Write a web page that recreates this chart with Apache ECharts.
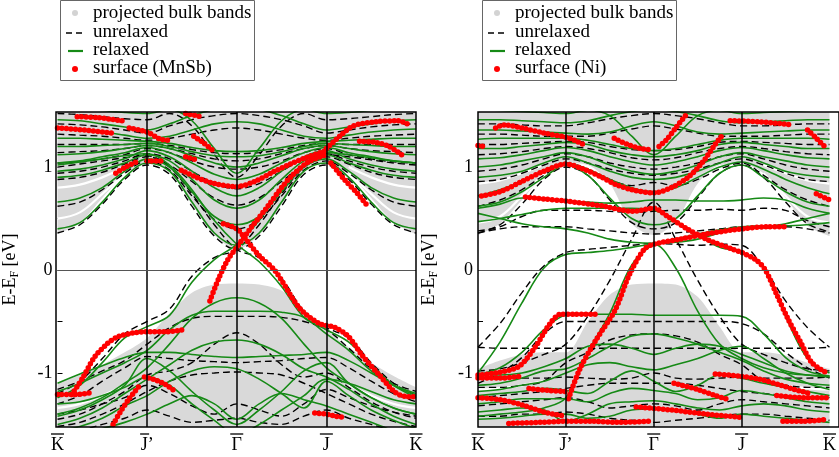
<!DOCTYPE html>
<html><head><meta charset="utf-8">
<script src="https://cdn.jsdelivr.net/npm/echarts@6/dist/echarts.min.js"></script>
<style>html,body{margin:0;padding:0;background:#fff}#c{width:839px;height:457px}</style>
</head><body><div id="c"></div><script>
// ---------- axes ----------
const kX = [0,0.25,0.5,0.75,1,1.25,1.5,1.75,2,2.25,2.5,2.75,3,3.25,3.5,3.75,4];
const kTickLabels = ['K','J\u2019','\u0393','J','K'];
const eTickValues = [-1,-0.5,0,0.5,1];
const eLabelValues = [-1,0,1];
const eMin = -1.525, eMax = 1.535;

// ---------- MnSb-terminated panel ----------
const mnsbBulkUpper = [0.35,0.46,0.70,0.93,1.03,0.97,0.64,0.34,0.20,0.34,0.64,0.97,1.03,0.93,0.70,0.46,0.35];
const mnsbBulkLower = [-1.10,-1.02,-0.92,-0.80,-0.66,-0.42,-0.22,-0.14,-0.13,-0.14,-0.20,-0.38,-0.58,-0.75,-0.90,-1.03,-1.14];
const mnsbGap = [[1.55,1.32],[1.75,1.40],[2.0,1.42],[2.25,1.40],[2.45,1.32],[2.25,1.26],[2.0,1.23],[1.75,1.26]];
const mnsbBulkStreaks = [
 [[0,0.50],[0.25,0.56],[0.5,0.74],[0.75,0.94]],
 [[0,0.80],[0.25,0.83],[0.5,0.90],[0.75,1.0]],
 [[3.25,0.94],[3.5,0.74],[3.75,0.56],[4,0.50]],
 [[3.25,1.0],[3.5,0.90],[3.75,0.83],[4,0.80]],
 [[0,-1.34],[0.25,-1.30],[0.5,-1.22],[0.75,-1.12]],
 [[3.25,-1.12],[3.5,-1.22],[3.75,-1.30],[4,-1.34]]
];
const mnsbRelaxed = [
 [0.40,0.46,0.66,0.90,1.04,0.96,0.66,0.36,0.24,0.36,0.66,0.96,1.04,0.90,0.66,0.46,0.40],
 [0.66,0.70,0.80,0.96,1.08,1.00,0.76,0.52,0.44,0.52,0.76,1.00,1.08,0.96,0.80,0.70,0.66],
 [0.90,0.92,0.97,1.04,1.12,1.06,0.88,0.68,0.60,0.68,0.88,1.06,1.12,1.04,0.97,0.92,0.90],
 [0.96,0.98,1.02,1.08,1.16,1.10,0.96,0.80,0.72,0.80,0.96,1.10,1.16,1.08,1.02,0.98,0.96],
 [1.04,1.06,1.10,1.14,1.19,1.14,1.04,0.93,0.88,0.93,1.04,1.14,1.19,1.14,1.10,1.06,1.04],
 [1.12,1.13,1.15,1.18,1.21,1.18,1.11,1.04,1.00,1.04,1.11,1.18,1.21,1.18,1.15,1.13,1.12],
 [1.20,1.20,1.21,1.22,1.23,1.20,1.15,1.11,1.10,1.11,1.15,1.20,1.23,1.22,1.21,1.20,1.20],
 [1.28,1.28,1.27,1.26,1.25,1.23,1.19,1.16,1.15,1.16,1.19,1.23,1.25,1.26,1.27,1.28,1.28],
 [1.37,1.36,1.34,1.31,1.28,1.30,1.36,1.42,1.44,1.42,1.36,1.30,1.28,1.31,1.34,1.36,1.37],
 [1.46,1.45,1.42,1.39,1.36,1.42,1.50,1.56,1.58,1.56,1.50,1.42,1.36,1.39,1.42,1.45,1.46],
 [1.58,1.57,1.55,1.53,1.52,1.56,1.45,1.18,0.94,1.18,1.45,1.56,1.52,1.53,1.55,1.57,1.58],
 [-1.24,-1.12,-0.90,-0.66,-0.55,-0.44,-0.12,0.10,0.25,0.48,0.78,1.02,1.14,1.12,1.09,1.06,1.04],
 [1.02,1.05,1.08,1.11,1.13,1.02,0.78,0.48,0.25,0.08,-0.16,-0.46,-0.58,-0.70,-0.92,-1.12,-1.24],
 [-1.10,-1.01,-0.93,-0.85,-0.80,-0.80,-0.82,-0.84,-0.85,-0.84,-0.83,-0.82,-0.80,-0.88,-1.00,-1.12,-1.20],
 [-1.18,-1.10,-1.00,-0.90,-0.78,-0.58,-0.44,-0.40,-0.40,-0.40,-0.41,-0.46,-0.62,-0.78,-0.98,-1.12,-1.22],
 [-1.40,-1.34,-1.24,-1.10,-0.95,-0.72,-0.47,-0.32,-0.27,-0.32,-0.47,-0.72,-0.95,-1.10,-1.24,-1.34,-1.40],
 [-1.50,-1.44,-1.34,-1.20,-1.06,-0.92,-0.78,-0.70,-0.68,-0.72,-0.82,-0.96,-1.04,-1.16,-1.30,-1.42,-1.50],
 [-1.42,-1.36,-1.26,-1.12,-0.86,-0.98,-1.18,-1.36,-1.50,-1.36,-1.18,-0.98,-0.90,-1.10,-1.24,-1.34,-1.40],
 [-1.56,-1.52,-1.44,-1.32,-1.22,-1.08,-0.98,-0.94,-0.96,-1.06,-1.20,-1.34,-1.08,-1.22,-1.36,-1.46,-1.54],
 [-1.60,-1.58,-1.54,-1.48,-1.40,-1.30,-1.22,-1.30,-1.45,-1.30,-1.20,-1.26,-1.32,-1.40,-1.48,-1.56,-1.60],
 [-1.30,-1.28,-1.22,-1.14,-1.04,-1.12,-1.30,-1.46,-1.60,-1.50,-1.36,-1.22,-1.06,-1.10,-1.18,-1.26,-1.30]
];
const mnsbUnrelaxed = [
 [0.36,0.44,0.64,0.88,1.02,0.93,0.62,0.33,0.20,0.33,0.62,0.93,1.02,0.88,0.64,0.44,0.36],
 [0.62,0.66,0.78,0.94,1.06,0.97,0.72,0.49,0.40,0.49,0.72,0.97,1.06,0.94,0.78,0.66,0.62],
 [0.88,0.90,0.95,1.03,1.10,1.02,0.86,0.70,0.63,0.70,0.86,1.02,1.10,1.03,0.95,0.90,0.88],
 [0.94,0.96,1.00,1.06,1.13,1.08,0.96,0.84,0.79,0.84,0.96,1.08,1.13,1.06,1.00,0.96,0.94],
 [1.04,1.05,1.08,1.12,1.18,1.14,1.06,1.00,0.98,1.00,1.06,1.14,1.18,1.12,1.08,1.05,1.04],
 [1.14,1.15,1.16,1.18,1.21,1.18,1.13,1.08,1.06,1.08,1.13,1.18,1.21,1.18,1.16,1.15,1.14],
 [1.22,1.22,1.22,1.22,1.23,1.21,1.17,1.14,1.13,1.14,1.17,1.21,1.23,1.22,1.22,1.22,1.22],
 [1.32,1.31,1.30,1.28,1.26,1.28,1.32,1.36,1.38,1.36,1.32,1.28,1.26,1.28,1.30,1.31,1.32],
 [1.42,1.41,1.39,1.36,1.33,1.40,1.46,1.50,1.52,1.50,1.46,1.40,1.33,1.36,1.39,1.41,1.42],
 [1.52,1.51,1.49,1.47,1.46,1.52,1.40,1.12,0.90,1.12,1.40,1.52,1.46,1.47,1.49,1.51,1.52],
 [-1.20,-1.08,-0.86,-0.62,-0.50,-0.38,-0.06,0.12,0.20,0.44,0.74,1.00,1.12,1.10,1.07,1.04,1.02],
 [1.00,1.03,1.06,1.09,1.11,1.00,0.74,0.44,0.20,0.12,-0.08,-0.40,-0.56,-0.66,-0.90,-1.10,-1.22],
 [-1.16,-1.08,-0.98,-0.88,-0.72,-0.56,-0.47,-0.45,-0.45,-0.45,-0.46,-0.50,-0.58,-0.76,-0.96,-1.10,-1.18],
 [-1.30,-1.22,-1.08,-0.95,-0.84,-0.86,-0.88,-0.89,-0.90,-0.89,-0.88,-0.86,-0.85,-0.95,-1.08,-1.20,-1.28],
 [-1.45,-1.40,-1.30,-1.18,-1.02,-0.98,-0.90,-0.72,-0.61,-0.72,-0.92,-1.04,-1.00,-1.14,-1.28,-1.38,-1.44],
 [-1.52,-1.48,-1.40,-1.30,-1.18,-1.08,-1.02,-1.00,-0.99,-1.00,-1.02,-1.10,-1.20,-1.30,-1.40,-1.47,-1.52],
 [-1.40,-1.36,-1.30,-1.24,-1.12,-1.20,-1.32,-1.40,-1.30,-1.36,-1.42,-1.30,-1.16,-1.24,-1.32,-1.38,-1.42],
 [-1.60,-1.56,-1.50,-1.44,-1.36,-1.42,-1.48,-1.46,-1.44,-1.48,-1.50,-1.42,-1.36,-1.44,-1.50,-1.56,-1.60]
];
const mnsbSurface = [
 [[0.22,1.49],[0.45,1.48],[0.72,1.45]],
 [[0.0,1.38],[0.3,1.36],[0.6,1.33]],
 [[0.8,1.38],[1.0,1.34],[1.15,1.27],[1.25,1.26]],
 [[1.43,1.52],[1.6,1.49]],
 [[1.52,1.30],[1.62,1.24],[1.75,1.15]],
 [[0.65,0.94],[0.76,1.00],[0.88,1.05]],
 [[1.0,1.06],[1.2,1.06]],
 [[1.43,1.10],[1.55,1.07]],
 [[1.38,0.97],[1.55,0.90],[1.75,0.84],[2.0,0.81],[2.2,0.86],[2.4,0.95],[2.6,1.03],[2.8,1.10],[3.0,1.16]],
 [[3.0,1.18],[3.15,1.30],[3.3,1.40],[3.55,1.44],[3.8,1.45],[3.9,1.42]],
 [[3.37,1.25],[3.55,1.24],[3.7,1.20],[3.84,1.12]],
 [[3.05,1.04],[3.2,0.88],[3.35,0.74],[3.46,0.62]],
 [[1.7,-0.30],[1.8,-0.08],[1.9,0.10],[2.0,0.22],[2.15,0.40],[2.33,0.60],[2.5,0.80],[2.62,0.92],[2.8,1.05],[3.0,1.12]],
 [[1.85,0.45],[2.0,0.40],[2.1,0.30],[2.25,0.14],[2.43,-0.01],[2.7,-0.37],[2.92,-0.52],[3.1,-0.56],[3.25,-0.65],[3.4,-0.83],[3.59,-1.02],[3.77,-1.19],[3.9,-1.23],[4.0,-1.23]],
 [[0.16,-1.21],[0.28,-1.05],[0.41,-0.85],[0.55,-0.72],[0.67,-0.65],[0.85,-0.61],[1.0,-0.60],[1.2,-0.60],[1.41,-0.58]],
 [[0.0,-1.21],[0.2,-1.21],[0.38,-1.19]],
 [[0.97,-1.04],[1.1,-1.07],[1.2,-1.11],[1.3,-1.17]],
 [[0.62,-1.50],[0.7,-1.38],[0.8,-1.25],[0.91,-1.13]],
 [[2.87,-1.39],[3.0,-1.40],[3.1,-1.42],[3.21,-1.43]]
];

// ---------- Ni-terminated panel ----------
const niBulkUpper = [0.34,0.45,0.68,0.92,1.04,1.02,0.84,0.45,0.34,0.47,0.84,1.02,1.03,0.94,0.70,0.43,0.33];
const niBulkLower = [-0.96,-0.88,-0.82,-0.80,-0.80,-0.50,-0.24,-0.14,-0.13,-0.14,-0.26,-0.55,-0.80,-0.80,-0.83,-0.90,-0.96];
const niGap = [[1.6,1.30],[1.8,1.39],[2.0,1.41],[2.2,1.39],[2.4,1.30],[2.2,1.27],[2.0,1.25],[1.8,1.27]];
const niBulkStreaks = [
 [[0,0.46],[0.25,0.52],[0.5,0.72],[0.75,0.94]],
 [[0,0.84],[0.25,0.87],[0.5,0.94],[0.75,1.02]],
 [[3.25,0.94],[3.5,0.72],[3.75,0.52],[4,0.46]],
 [[3.25,1.02],[3.5,0.94],[3.75,0.87],[4,0.84]],
 [[0,-1.16],[0.25,-1.15],[0.5,-1.12],[0.75,-1.08]],
 [[3.25,-1.08],[3.5,-1.12],[3.75,-1.15],[4,-1.16]]
];
const niRelaxed = [
 [0.55,0.50,0.45,0.42,0.40,0.36,0.30,0.27,0.26,0.27,0.30,0.36,0.40,0.42,0.45,0.50,0.55],
 [-1.00,-0.70,-0.32,0.02,0.15,0.17,0.19,0.22,0.25,0.02,-0.40,-0.72,-0.86,-0.95,-1.00,-1.02,-1.03],
 [-1.02,-0.95,-0.80,-0.58,-0.44,-0.43,-0.43,-0.43,-0.44,-0.44,-0.44,-0.44,-0.45,-0.62,-0.85,-0.98,-1.03],
 [0.60,0.64,0.70,0.69,0.67,0.66,0.65,0.66,0.68,0.68,0.67,0.67,0.68,0.70,0.68,0.60,0.55],
 [0.47,0.50,0.54,0.58,0.60,0.60,0.60,0.60,0.58,0.48,0.34,0.22,0.17,0.02,-0.45,-0.86,-1.00],
 [0.72,0.78,0.86,0.96,1.04,0.98,0.88,0.80,0.76,0.80,0.90,1.00,1.05,0.98,0.88,0.80,0.74],
 [0.62,0.66,0.76,0.90,1.02,0.92,0.70,0.50,0.44,0.50,0.72,0.94,1.02,0.90,0.76,0.66,0.62],
 [0.90,0.92,0.96,1.04,1.10,1.04,0.96,0.90,0.88,0.90,0.96,1.04,1.10,1.04,0.96,0.92,0.90],
 [1.00,1.02,1.06,1.10,1.14,1.10,1.02,0.96,0.93,0.96,1.02,1.10,1.14,1.10,1.06,1.02,1.00],
 [1.08,1.09,1.12,1.16,1.19,1.16,1.10,1.05,1.02,1.05,1.10,1.16,1.19,1.16,1.12,1.09,1.08],
 [1.18,1.18,1.20,1.22,1.24,1.22,1.16,1.12,1.10,1.12,1.16,1.22,1.24,1.22,1.20,1.18,1.18],
 [1.27,1.28,1.28,1.28,1.28,1.26,1.22,1.18,1.16,1.18,1.22,1.26,1.28,1.28,1.28,1.28,1.27],
 [1.36,1.36,1.35,1.34,1.33,1.32,1.34,1.40,1.44,1.40,1.34,1.32,1.33,1.34,1.35,1.36,1.36],
 [1.46,1.46,1.45,1.44,1.43,1.45,1.50,1.54,1.56,1.54,1.50,1.45,1.43,1.44,1.45,1.46,1.46],
 [1.56,1.55,1.54,1.53,1.52,1.55,1.50,1.30,1.12,1.30,1.50,1.55,1.52,1.53,1.54,1.55,1.56],
 [-1.42,-1.40,-1.38,-1.34,-1.24,-0.80,-0.42,0.05,0.25,0.30,0.35,0.39,0.42,0.43,0.43,0.44,0.46],
 [-1.00,-1.02,-1.00,-0.94,-0.86,-0.74,-0.72,-0.76,-0.82,-0.76,-0.72,-0.74,-0.82,-0.90,-0.98,-1.02,-1.04],
 [-1.12,-1.10,-1.05,-0.98,-0.96,-0.86,-0.74,-0.64,-0.62,-0.66,-0.72,-0.80,-0.88,-0.98,-1.06,-1.10,-1.12],
 [-1.18,-1.16,-1.12,-1.08,-1.00,-0.92,-0.90,-0.94,-0.97,-0.92,-0.86,-0.78,-0.74,-0.86,-1.00,-1.10,-1.16],
 [-1.22,-1.20,-1.18,-1.15,-1.17,-1.20,-1.08,-0.98,-1.08,-1.18,-1.12,-1.02,-1.05,-1.10,-1.14,-1.18,-1.22],
 [-1.30,-1.28,-1.25,-1.25,-1.25,-1.28,-1.20,-1.15,-1.17,-1.20,-1.26,-1.24,-1.17,-1.20,-1.24,-1.28,-1.30],
 [-1.38,-1.36,-1.34,-1.36,-1.47,-1.40,-1.30,-1.28,-1.27,-1.30,-1.34,-1.36,-1.32,-1.30,-1.32,-1.36,-1.38],
 [-1.45,-1.44,-1.42,-1.40,-1.40,-1.44,-1.42,-1.36,-1.35,-1.36,-1.40,-1.44,-1.40,-1.42,-1.44,-1.46,-1.48]
];
const niUnrelaxed = [
 [-0.75,-0.76,-0.76,-0.76,-0.76,-0.76,-0.76,-0.76,-0.76,-0.76,-0.76,-0.76,-0.76,-0.76,-0.76,-0.76,-0.75],
 [-0.75,-0.52,-0.22,0.04,0.17,0.20,0.22,0.24,0.26,0.25,0.24,0.25,0.24,0.02,-0.30,-0.56,-0.75],
 [-0.98,-0.96,-0.90,-0.82,-0.72,-0.45,-0.10,0.30,0.66,0.30,-0.10,-0.45,-0.72,-0.82,-0.90,-0.96,-0.98],
 [-1.10,-1.00,-0.85,-0.62,-0.50,-0.50,-0.50,-0.50,-0.50,-0.50,-0.50,-0.50,-0.52,-0.62,-0.80,-0.95,-1.05],
 [0.38,0.42,0.52,0.58,0.58,0.58,0.57,0.56,0.57,0.58,0.58,0.59,0.58,0.60,0.58,0.48,0.42],
 [0.36,0.40,0.42,0.42,0.42,0.40,0.38,0.36,0.35,0.36,0.38,0.40,0.42,0.42,0.42,0.40,0.36],
 [0.36,0.44,0.64,0.88,1.00,0.92,0.68,0.46,0.40,0.46,0.70,0.94,1.02,0.90,0.66,0.45,0.37],
 [0.62,0.68,0.78,0.92,1.04,0.98,0.88,0.82,0.85,0.82,0.88,0.98,1.04,0.92,0.78,0.68,0.62],
 [0.86,0.88,0.94,1.02,1.08,1.04,0.98,0.94,0.92,0.94,0.98,1.04,1.08,1.02,0.94,0.88,0.86],
 [0.96,0.98,1.02,1.08,1.13,1.10,1.04,1.00,0.98,1.00,1.04,1.10,1.13,1.08,1.02,0.98,0.96],
 [1.12,1.13,1.15,1.18,1.20,1.18,1.14,1.09,1.07,1.09,1.14,1.18,1.20,1.18,1.15,1.13,1.12],
 [1.22,1.22,1.23,1.24,1.25,1.24,1.20,1.17,1.16,1.17,1.20,1.24,1.25,1.24,1.23,1.22,1.22],
 [1.32,1.32,1.31,1.30,1.30,1.30,1.33,1.37,1.40,1.37,1.33,1.30,1.30,1.30,1.31,1.32,1.32],
 [1.42,1.42,1.41,1.40,1.40,1.43,1.47,1.50,1.52,1.50,1.47,1.43,1.40,1.40,1.41,1.42,1.42],
 [-1.04,-1.05,-1.05,-1.05,-1.04,-1.05,-1.06,-1.05,-1.00,-1.05,-1.06,-1.05,-1.04,-1.05,-1.05,-1.05,-1.04],
 [-1.14,-1.14,-1.12,-1.08,-0.90,-0.80,-0.68,-0.63,-0.62,-0.64,-0.70,-0.82,-0.92,-1.08,-1.12,-1.14,-1.14],
 [-1.24,-1.22,-1.20,-1.18,-1.15,-1.12,-1.10,-1.10,-1.10,-1.10,-1.12,-1.15,-1.18,-1.20,-1.22,-1.24,-1.24],
 [-1.32,-1.30,-1.28,-1.26,-1.24,-1.28,-1.34,-1.32,-1.30,-1.32,-1.36,-1.30,-1.26,-1.28,-1.30,-1.32,-1.34],
 [-1.42,-1.42,-1.40,-1.40,-1.38,-1.40,-1.44,-1.46,-1.48,-1.46,-1.44,-1.42,-1.40,-1.40,-1.42,-1.44,-1.46]
];
const niSurface = [
 [[0.0,1.21],[0.07,1.20]],
 [[0.2,1.38],[0.3,1.41],[0.5,1.38],[0.75,1.33],[1.0,1.29],[1.1,1.26],[1.2,1.22]],
 [[0.04,0.72],[0.25,0.76],[0.5,0.86],[0.75,0.96],[1.0,1.03],[1.2,0.98],[1.41,0.90],[1.57,0.83],[1.75,0.78],[2.0,0.75],[2.2,0.80],[2.39,0.90],[2.55,1.04],[2.69,1.21],[2.79,1.32]],
 [[1.55,1.28],[1.7,1.22],[1.85,1.18],[1.95,1.17]],
 [[2.06,1.20],[2.15,1.27],[2.25,1.38],[2.36,1.50]],
 [[2.87,1.45],[3.2,1.44],[3.58,1.41]],
 [[3.75,1.36],[3.85,1.28],[3.97,1.18]],
 [[3.85,0.74],[4.0,0.68]],
 [[0.54,0.71],[0.75,0.69],[1.0,0.67],[1.43,0.62],[1.76,0.57],[2.0,0.60],[2.16,0.52],[2.38,0.40],[2.6,0.30],[2.9,0.20],[3.0,0.17],[3.16,0.10],[3.27,0.0],[3.4,-0.24],[3.53,-0.48],[3.67,-0.70],[3.8,-0.90],[3.97,-1.00]],
 [[1.03,-1.25],[1.16,-0.96],[1.35,-0.67],[1.56,-0.39],[1.72,-0.05],[1.89,0.20],[2.0,0.25],[2.3,0.30],[2.6,0.35],[3.0,0.40],[3.3,0.42],[3.53,0.42]],
 [[0.0,-1.02],[0.2,-1.00],[0.46,-0.94],[0.65,-0.75],[0.82,-0.52],[0.94,-0.43],[1.1,-0.43],[1.35,-0.43]],
 [[0.0,-1.05],[0.25,-1.05],[0.5,-1.03]],
 [[0.0,-1.24],[0.25,-1.26],[0.5,-1.31],[0.75,-1.38],[0.99,-1.42]],
 [[0.58,-1.15],[0.8,-1.17],[0.99,-1.18]],
 [[0.35,-1.49],[0.7,-1.48],[0.98,-1.47],[1.3,-1.47],[1.6,-1.48],[1.94,-1.47]],
 [[1.8,-1.33],[2.2,-1.36],[2.6,-1.40],[2.98,-1.43]],
 [[2.23,-1.10],[2.5,-1.16],[2.7,-1.22],[2.86,-1.26]],
 [[2.7,-1.01],[2.97,-1.03],[3.2,-1.06],[3.45,-1.12],[3.6,-1.16],[3.78,-1.20]],
 [[3.4,-1.22],[3.7,-1.24],[4.0,-1.24]],
 [[3.47,-1.47],[3.7,-1.47],[3.98,-1.45]]
];

// ---------- styles ----------
const FONT = 'Liberation Serif';
const GRAY = '#d9d9d9';
const GREEN = '#168a16';
const RED = '#ff0000';

function panelSeries(i, bulkUp, bulkLo, gap, streaks, unrel, rel, surf) {
  const ax = {xAxisIndex: i, yAxisIndex: i};
  const S = [];
  S.push({type:'line', ...ax, silent:true, symbol:'none', smooth:0.3,
    data: kX.map((x,j)=>[x, bulkUp[j]]), lineStyle:{width:0},
    areaStyle:{origin:'end', color:GRAY, opacity:1}});
  S.push({type:'line', ...ax, silent:true, symbol:'none', smooth:0.3,
    data: kX.map((x,j)=>[x, bulkLo[j]]), lineStyle:{width:0},
    areaStyle:{origin:'start', color:GRAY, opacity:1}});
  S.push({type:'custom', ...ax, silent:true, data:[[2,1.3]],
    renderItem:(p, api)=>({type:'polygon', shape:{points: gap.map(pt=>api.coord(pt)), smooth:0.5}, style:{fill:'#ffffff'}})});
  streaks.forEach(seg => S.push({type:'line', ...ax, silent:true, symbol:'none', smooth:0.4,
    data: seg, lineStyle:{color:'#ffffff', width:2.2}}));
  S.push({type:'line', ...ax, silent:true, data:[], markLine:{silent:true, symbol:'none', label:{show:false},
    lineStyle:{color:'#000', width:1.5, type:'solid'},
    data:[{xAxis:1},{xAxis:2},{xAxis:3},{yAxis:0, lineStyle:{color:'#555', width:1, type:'solid'}}]}});
  unrel.forEach(b => S.push({type:'line', ...ax, silent:true, symbol:'none', smooth:0.35,
    data: kX.map((x,j)=>[x, b[j]]), lineStyle:{color:'#000', width:1.4, type:[7,4]}}));
  rel.forEach(b => S.push({type:'line', ...ax, silent:true, symbol:'none', smooth:0.35,
    data: kX.map((x,j)=>[x, b[j]]), lineStyle:{color:GREEN, width:1.6}}));
  surf.forEach(seg => S.push({type:'line', ...ax, silent:true, symbol:'none', smooth:0.3,
    data: seg, lineStyle:{color:RED, width:5.5, type:[0,4.5], cap:'round'}}));
  return S;
}

const grids = [{left:56, top:112, width:360, height:315}, {left:478, top:112, width:361, height:315}];

function legend(x0, symX, textX, label) {
  const tf = {fontFamily:FONT, fontSize:19, fill:'#000', verticalAlign:'middle', align:'left'};
  return [
    {type:'rect', shape:{x:x0+0.5, y:0.5, width:194, height:80}, style:{fill:'#fff', stroke:'#666', lineWidth:1}, z:50},
    {type:'circle', shape:{cx:symX, cy:13, r:3}, style:{fill:'#d3d3d3'}, z:51},
    {type:'line', shape:{x1:symX-9, y1:33, x2:symX+8, y2:33}, style:{stroke:'#000', lineWidth:1.6, lineDash:[6,4]}, z:51},
    {type:'line', shape:{x1:symX-7, y1:51, x2:symX+8, y2:51}, style:{stroke:GREEN, lineWidth:2.2}, z:51},
    {type:'circle', shape:{cx:symX, cy:69, r:3}, style:{fill:RED}, z:51},
    {type:'text', x:textX, y:13, style:{text:'projected bulk bands', ...tf}, z:51},
    {type:'text', x:textX, y:32, style:{text:'unrelaxed', ...tf}, z:51},
    {type:'text', x:textX, y:50, style:{text:'relaxed', ...tf}, z:51},
    {type:'text', x:textX, y:68, style:{text:label, ...tf}, z:51}
  ];
}

const labelRich = {
  bar:{width:13, height:1.3, lineHeight:4, backgroundColor:'#000', fontSize:1},
  barJ:{width:9, height:1.3, lineHeight:4, backgroundColor:'#000', fontSize:1},
  sp:{width:5, height:1.3, lineHeight:4, fontSize:1},
  t:{fontFamily:FONT, fontSize:18, color:'#000', lineHeight:18}
};
function kLabel(v) {
  const i = Math.round(v);
  const s = kTickLabels[i];
  if (i === 1) return '{barJ| }{sp| }\n{t|' + s + '}';
  return '{bar| }\n{t|' + s + '}';
}

const option = {
  animation:false,
  backgroundColor:'#fff',
  grid: grids,
  xAxis: [0,1].map(i=>({gridIndex:i, type:'value', min:0, max:4, interval:1,
    axisLine:{show:false}, axisTick:{show:false}, splitLine:{show:false},
    axisLabel:{formatter:kLabel, rich:labelRich, fontFamily:FONT, fontSize:18, color:'#000', margin:5, showMinLabel:true, showMaxLabel:true}})),
  yAxis: [0,1].map(i=>({gridIndex:i, type:'value', min:eMin, max:eMax,
    axisLine:{show:false}, splitLine:{show:false},
    axisTick:{show:true, inside:true, length:5, customValues:eTickValues, lineStyle:{color:'#000', width:1}},
    axisLabel:{customValues:eLabelValues, fontFamily:FONT, fontSize:18, color:'#000', margin:5},
    name:'E-E{s|F} [eV]', nameLocation:'middle', nameGap:i===0?37:38, nameRotate:90,
    nameTextStyle:{fontFamily:FONT, fontSize:18, color:'#000', rich:{s:{fontFamily:FONT, fontSize:12, color:'#000', padding:[9,0,0,0]}}}})),
  series: [
    ...panelSeries(0, mnsbBulkUpper, mnsbBulkLower, mnsbGap, mnsbBulkStreaks, mnsbUnrelaxed, mnsbRelaxed, mnsbSurface),
    ...panelSeries(1, niBulkUpper, niBulkLower, niGap, niBulkStreaks, niUnrelaxed, niRelaxed, niSurface)
  ],
  graphic: [
    ...grids.map(g=>({type:'rect', silent:true, z:100, shape:{x:g.left, y:g.top, width:g.width, height:g.height}, style:{fill:null, stroke:'#000', lineWidth:1.5}})),
    ...legend(60, 75, 93, 'surface (MnSb)'),
    ...legend(482, 497, 515, 'surface (Ni)')
  ]
};
const chart = echarts.init(document.getElementById('c'), null, {renderer:'canvas'});
chart.setOption(option);
</script></body></html>
